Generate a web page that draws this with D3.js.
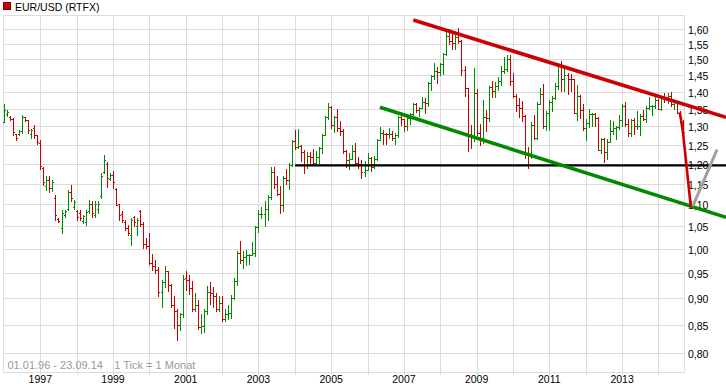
<!DOCTYPE html>
<html><head><meta charset="utf-8">
<script src="https://cdn.jsdelivr.net/npm/d3@7/dist/d3.min.js"></script>
<style>html,body{margin:0;padding:0;background:#fff;} svg{display:block;font-family:"Liberation Sans",Arial,sans-serif;}</style>
</head><body><svg id="c" width="726" height="391"></svg>
<script>
// ---- data (monthly OHLC, Jan 1996 .. Sep 2014) ----
const startDate = new Date(1996, 0, 1);
const opens = [
1.313,1.335,1.327,1.320,1.278,1.278,1.286,1.325,1.318,1.280,1.295,1.275,
1.255,1.190,1.145,1.160,1.140,1.115,1.067,1.045,1.075,1.090,1.130,1.095,
1.085,1.080,1.062,1.060,1.085,1.100,1.075,1.090,1.120,1.180,1.200,1.162,
1.172,1.138,1.100,1.077,1.060,1.045,1.030,1.070,1.050,1.085,1.055,1.010,
1.007,0.971,0.965,0.957,0.912,0.932,0.953,0.925,0.888,0.875,0.850,0.870,
0.940,0.935,0.920,0.880,0.888,0.847,0.849,0.876,0.912,0.911,0.904,0.880,
0.890,0.861,0.870,0.872,0.901,0.934,0.991,0.977,0.982,0.987,0.988,0.992,
1.049,1.077,1.078,1.090,1.117,1.180,1.150,1.125,1.099,1.165,1.158,1.198,
1.259,1.245,1.247,1.230,1.197,1.220,1.217,1.203,1.218,1.241,1.276,1.326,
1.356,1.304,1.325,1.296,1.288,1.232,1.210,1.213,1.233,1.203,1.199,1.179,
1.184,1.216,1.192,1.212,1.262,1.282,1.279,1.278,1.280,1.268,1.276,1.325,
1.320,1.302,1.323,1.335,1.365,1.345,1.353,1.369,1.366,1.426,1.448,1.462,
1.459,1.485,1.517,1.578,1.561,1.555,1.575,1.561,1.467,1.410,1.273,1.270,
1.397,1.281,1.266,1.325,1.324,1.415,1.403,1.418,1.432,1.464,1.471,1.500,
1.433,1.386,1.362,1.351,1.329,1.227,1.224,1.305,1.268,1.363,1.393,1.300,
1.337,1.369,1.380,1.416,1.481,1.439,1.450,1.440,1.440,1.339,1.386,1.345,
1.296,1.308,1.334,1.334,1.323,1.236,1.266,1.230,1.258,1.286,1.296,1.299,
1.319,1.358,1.306,1.282,1.317,1.300,1.301,1.330,1.322,1.352,1.359,1.359,
1.374,1.349,1.380,1.377,1.387,1.363,1.369,1.339,1.313];
const highs = [
1.363,1.347,1.329,1.324,1.279,1.290,1.331,1.326,1.318,1.294,1.305,1.276,
1.262,1.192,1.168,1.170,1.159,1.122,1.068,1.088,1.088,1.135,1.147,1.111,
1.087,1.087,1.075,1.087,1.111,1.107,1.107,1.107,1.176,1.223,1.205,1.176,
1.182,1.140,1.102,1.084,1.063,1.053,1.069,1.072,1.069,1.087,1.059,1.023,
1.035,0.990,0.977,0.963,0.935,0.964,0.953,0.928,0.905,0.880,0.872,0.945,
0.955,0.945,0.933,0.910,0.897,0.870,0.880,0.923,0.931,0.922,0.911,0.905,
0.905,0.880,0.887,0.907,0.940,0.996,1.017,0.995,0.997,0.990,1.015,1.050,
1.087,1.094,1.109,1.123,1.193,1.193,1.170,1.145,1.168,1.186,1.203,1.263,
1.290,1.292,1.250,1.236,1.230,1.230,1.238,1.233,1.243,1.280,1.330,1.367,
1.358,1.328,1.349,1.314,1.294,1.235,1.229,1.250,1.254,1.218,1.209,1.208,
1.229,1.218,1.219,1.264,1.298,1.290,1.283,1.296,1.288,1.281,1.330,1.336,
1.322,1.327,1.339,1.368,1.368,1.354,1.385,1.380,1.428,1.452,1.490,1.475,
1.490,1.520,1.590,1.602,1.584,1.586,1.604,1.565,1.480,1.410,1.305,1.472,
1.408,1.306,1.374,1.346,1.417,1.434,1.429,1.444,1.478,1.507,1.514,1.514,
1.458,1.392,1.382,1.372,1.333,1.243,1.313,1.333,1.369,1.412,1.424,1.344,
1.375,1.386,1.426,1.488,1.494,1.470,1.458,1.455,1.440,1.419,1.389,1.363,
1.322,1.349,1.338,1.338,1.326,1.269,1.268,1.264,1.317,1.314,1.302,1.331,
1.364,1.371,1.320,1.320,1.323,1.342,1.335,1.346,1.358,1.384,1.362,1.389,
1.377,1.383,1.397,1.396,1.399,1.370,1.369,1.344,1.319];
const lows = [
1.311,1.328,1.318,1.276,1.263,1.276,1.282,1.314,1.282,1.269,1.269,1.253,
1.186,1.147,1.135,1.130,1.133,1.064,1.060,1.035,1.071,1.088,1.108,1.090,
1.063,1.064,1.058,1.053,1.081,1.071,1.070,1.081,1.115,1.176,1.143,1.159,
1.139,1.098,1.063,1.060,1.042,1.030,1.009,1.051,1.030,1.051,1.003,1.002,
0.969,0.956,0.950,0.904,0.884,0.922,0.914,0.883,0.844,0.823,0.840,0.865,
0.916,0.908,0.875,0.875,0.843,0.835,0.837,0.871,0.889,0.884,0.875,0.875,
0.857,0.858,0.861,0.862,0.898,0.926,0.970,0.961,0.967,0.968,0.988,0.986,
1.036,1.069,1.050,1.064,1.112,1.140,1.123,1.081,1.085,1.150,1.137,1.194,
1.239,1.240,1.208,1.176,1.190,1.200,1.200,1.196,1.203,1.228,1.275,1.320,
1.295,1.284,1.287,1.277,1.228,1.191,1.187,1.212,1.199,1.189,1.164,1.170,
1.183,1.182,1.189,1.209,1.262,1.252,1.252,1.269,1.262,1.251,1.271,1.305,
1.287,1.289,1.306,1.333,1.340,1.329,1.351,1.337,1.357,1.405,1.440,1.427,
1.450,1.455,1.513,1.550,1.534,1.533,1.554,1.452,1.388,1.233,1.242,1.260,
1.275,1.248,1.254,1.288,1.316,1.385,1.385,1.405,1.421,1.456,1.462,1.421,
1.385,1.343,1.327,1.316,1.214,1.188,1.215,1.266,1.265,1.366,1.296,1.290,
1.290,1.343,1.378,1.407,1.403,1.403,1.392,1.403,1.337,1.318,1.324,1.290,
1.262,1.297,1.302,1.300,1.235,1.229,1.205,1.213,1.257,1.280,1.266,1.292,
1.300,1.302,1.274,1.274,1.279,1.294,1.276,1.318,1.311,1.348,1.332,1.353,
1.348,1.347,1.369,1.368,1.358,1.350,1.339,1.313,1.284];
const closes = [
1.345,1.340,1.320,1.285,1.268,1.286,1.325,1.318,1.290,1.290,1.275,1.258,
1.195,1.155,1.160,1.140,1.155,1.075,1.062,1.080,1.085,1.130,1.115,1.105,
1.070,1.068,1.072,1.082,1.100,1.080,1.100,1.100,1.170,1.210,1.165,1.172,
1.155,1.099,1.075,1.065,1.045,1.035,1.065,1.060,1.065,1.055,1.010,1.007,
0.971,0.965,0.957,0.912,0.932,0.953,0.925,0.888,0.875,0.850,0.870,0.938,
0.935,0.920,0.880,0.888,0.847,0.849,0.876,0.912,0.911,0.904,0.880,0.890,
0.861,0.870,0.872,0.901,0.934,0.991,0.977,0.982,0.987,0.988,0.992,1.049,
1.077,1.078,1.090,1.117,1.180,1.150,1.125,1.099,1.165,1.158,1.198,1.259,
1.245,1.247,1.230,1.197,1.220,1.217,1.203,1.218,1.241,1.276,1.326,1.356,
1.304,1.325,1.296,1.288,1.234,1.210,1.213,1.233,1.203,1.199,1.179,1.184,
1.216,1.192,1.212,1.262,1.282,1.279,1.278,1.280,1.268,1.276,1.325,1.320,
1.302,1.323,1.335,1.365,1.345,1.353,1.369,1.366,1.426,1.448,1.462,1.459,
1.485,1.517,1.578,1.561,1.555,1.575,1.561,1.467,1.410,1.273,1.270,1.397,
1.281,1.266,1.325,1.324,1.415,1.403,1.418,1.432,1.464,1.471,1.500,1.433,
1.386,1.362,1.351,1.329,1.227,1.224,1.305,1.268,1.363,1.393,1.300,1.337,
1.369,1.380,1.416,1.481,1.439,1.450,1.440,1.438,1.339,1.386,1.345,1.296,
1.308,1.334,1.334,1.323,1.236,1.266,1.230,1.258,1.286,1.296,1.299,1.319,
1.358,1.306,1.282,1.317,1.300,1.301,1.330,1.322,1.352,1.359,1.359,1.374,
1.349,1.380,1.377,1.387,1.363,1.369,1.339,1.313,1.285];

const yTicks = [0.80,0.85,0.90,0.95,1.00,1.05,1.10,1.15,1.20,1.25,1.30,1.35,1.40,1.45,1.50,1.55,1.60];
const gridYears = [1997,1998,1999,2000,2001,2002,2003,2004,2005,2006,2007,2008,2009,2010,2011,2012,2013,2014];
const labelYears = [1997,1999,2001,2003,2005,2007,2009,2011,2013];
const title = "EUR/USD (RTFX)";
const footerRange = "01.01.96 - 23.09.14";
const footerTick = "1 Tick = 1 Monat";

// drawn annotations (month index from Jan 1996, price)
const resistanceLine = [{m:135.1, v:1.632},{m:238.3, v:1.3255}];
const supportLine    = [{m:124.1, v:1.354},{m:238.3, v:1.070}];
const levelLine      = [{m:96.06, v:1.196},{m:238.3, v:1.196}];
const dropLine       = [{m:223.06, v:1.340},{m:224.1, v:1.284},{m:226.7, v:1.094}];
const reboundLine    = [{m:227.5, v:1.0986},{m:235.2, v:1.234}];

// ---- chart ----
(function(){
const months = d3.timeMonth.range(startDate, d3.timeMonth.offset(startDate, closes.length));
const bars = months.map((d,i)=>({date:d, i, o:opens[i], h:highs[i], l:lows[i], c:closes[i]}));

const svg = d3.select("#c");
const pLeft = 3, pRight = 684, pBottom = 372;
const x = d3.scaleLinear().domain([0, bars.length-1]).range([3.94, 682.66]);
const y = d3.scaleLog().domain([0.8, 1.6]).range([353.3, 29.3]);
const pTop = Math.round(y(1.65));
const fmt = d3.formatLocale({decimal:",", thousands:".", grouping:[3], currency:["","€"]}).format(".2f");
const gridC = "#dcdcdc";
const crisp = v => Math.round(v) + 0.5;

const g = svg.append("g");
g.selectAll("line.h").data(yTicks).join("line")
  .attr("x1", pLeft).attr("x2", pRight)
  .attr("y1", d=>crisp(y(d))).attr("y2", d=>crisp(y(d)))
  .attr("stroke", gridC).attr("stroke-width",1);
g.selectAll("line.v").data(gridYears).join("line")
  .attr("x1", d=>crisp(x((d-1996)*12))).attr("x2", d=>crisp(x((d-1996)*12)))
  .attr("y1", pTop).attr("y2", pBottom+3)
  .attr("stroke", gridC).attr("stroke-width",1);
g.append("rect").attr("x", pLeft+0.5).attr("y", pTop+0.5)
  .attr("width", pRight-pLeft).attr("height", pBottom-pTop)
  .attr("fill","none").attr("stroke", gridC);

g.selectAll("text.y").data(yTicks).join("text")
  .attr("x", pRight+4).attr("y", d=>y(d)+5)
  .attr("font-size","10.5px").attr("fill","#000")
  .text(d=>fmt(d));
g.selectAll("text.x").data(labelYears).join("text")
  .attr("x", d=>x((d-1996)*12)).attr("y", 382.5)
  .attr("text-anchor","middle").attr("font-size","10.5px").attr("fill","#000")
  .text(d=>d);

svg.append("rect").attr("x",3.5).attr("y",2.5).attr("width",7).attr("height",7)
  .attr("fill","#cc0000").attr("stroke","#7a0000");
svg.append("text").attr("x",15).attr("y",10.5).attr("font-size","10.5px").attr("fill","#000").text(title);
svg.append("text").attr("x",7.5).attr("y",369).attr("font-size","11px").attr("fill","#9a9a9a").text(footerRange);
svg.append("text").attr("x",114.3).attr("y",369).attr("font-size","11px").attr("fill","#9a9a9a").text(footerTick);

const red = "#cc0000", green = "#008a00";
const bg = svg.append("g").attr("shape-rendering","crispEdges");
bars.forEach(b=>{
  const col = b.c >= b.o ? green : red;
  const px = Math.round(x(b.i));
  const yh = Math.round(y(Math.max(b.h,b.o,b.c)));
  const yl = Math.round(y(Math.min(b.l,b.o,b.c)));
  bg.append("rect").attr("x",px).attr("y",yh).attr("width",1).attr("height",Math.max(1,yl-yh+1)).attr("fill",col);
  bg.append("rect").attr("x",px-1).attr("y",Math.round(y(b.o))).attr("width",1).attr("height",1).attr("fill",col);
  bg.append("rect").attr("x",px+1).attr("y",Math.round(y(b.c))).attr("width",1).attr("height",1).attr("fill",col);
});

const line = d3.line().x(d=>x(d.m)).y(d=>y(d.v));
svg.append("path").attr("d", line(levelLine)).attr("stroke","#000").attr("stroke-width",2.2).attr("fill","none");
svg.append("path").attr("d", line(supportLine)).attr("stroke","#008a00").attr("stroke-width",3.6).attr("fill","none");
svg.append("path").attr("d", line(resistanceLine)).attr("stroke","#cc0000").attr("stroke-width",3.6).attr("fill","none");
svg.append("path").attr("d", line(dropLine)).attr("stroke","#cc0000").attr("stroke-width",2.6).attr("fill","none").attr("stroke-linejoin","round");
svg.append("path").attr("d", line(reboundLine)).attr("stroke","#a0a0a0").attr("stroke-width",3).attr("fill","none").attr("stroke-linecap","round");
})();
</script></body></html>
